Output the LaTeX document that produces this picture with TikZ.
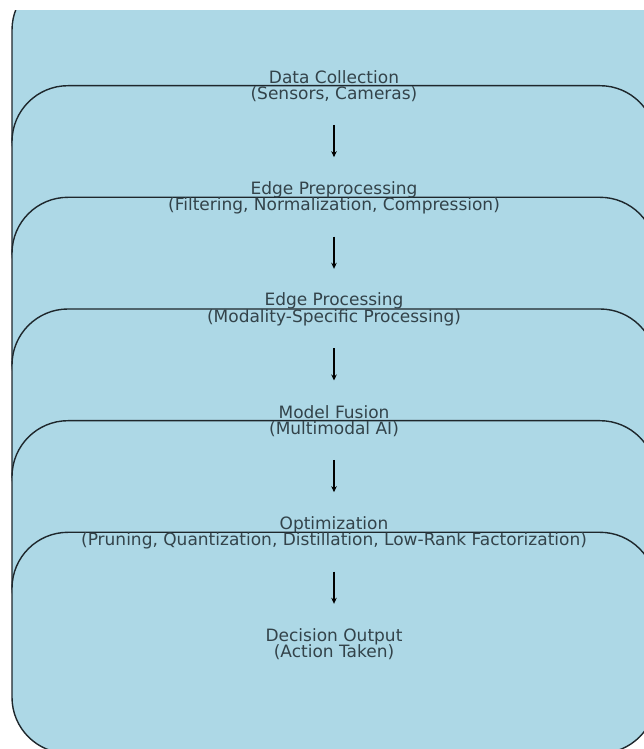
\documentclass[tikz,border=0pt]{standalone}
\definecolor{boxFill}{HTML}{ADD8E6}
\definecolor{boxEdge}{HTML}{1E272C}
\definecolor{labelText}{HTML}{33434A}
\usepackage{fontspec}
\setmainfont{DejaVu Sans}
\usepackage{tikz}
\usetikzlibrary{arrows.meta, positioning}

\begin{document}
\begin{tikzpicture}[x=1pt, y=1pt,
    stage/.style={fill=boxFill, draw=boxEdge, line width=1.4pt, rounded corners=56pt,
                  minimum width=644pt, minimum height=221pt, inner sep=0pt},
    caption/.style={text=labelText, align=center, font=\fontsize{17}{16.5}\selectfont},
    flow/.style={-{Stealth[length=6pt, width=5.5pt]}, line width=1.3pt, draw=black,
                 shorten <=40.5pt, shorten >=39pt}]
  \useasboundingbox (0,0) rectangle (644,749);
  % stacked stages, each one laid over the one before
  \begin{scope}
    \clip (0,0) rectangle (644,738);
    \node[stage] (b1) at (334,664.5) {};
    \node[stage] (b2) at (334,552.8) {};
    \node[stage] (b3) at (334,441.2) {};
    \node[stage] (b4) at (334,329.5) {};
    \node[stage] (b5) at (334,217.8) {};
    \node[stage] (b6) at (334,106.2) {};
  \end{scope}
  % labels on top of the outlines
  \node[caption] (t1) at ([yshift=-1.5pt]b1) {Data Collection\\(Sensors, Cameras)};
  \node[caption] (t2) at ([yshift=-1.5pt]b2) {Edge Preprocessing\\(Filtering, Normalization, Compression)};
  \node[caption] (t3) at ([yshift=-1.5pt]b3) {Edge Processing\\(Modality-Specific Processing)};
  \node[caption] (t4) at ([yshift=-1.5pt]b4) {Model Fusion\\(Multimodal AI)};
  \node[caption] (t5) at ([yshift=-1.5pt]b5) {Optimization\\(Pruning, Quantization, Distillation, Low-Rank Factorization)};
  \node[caption] (t6) at ([yshift=-1.5pt]b6) {Decision Output\\(Action Taken)};
  \draw[flow] (b1.center) -- (b2.center);
  \draw[flow] (b2.center) -- (b3.center);
  \draw[flow] (b3.center) -- (b4.center);
  \draw[flow] (b4.center) -- (b5.center);
  \draw[flow] (b5.center) -- (b6.center);
\end{tikzpicture}
\end{document}
